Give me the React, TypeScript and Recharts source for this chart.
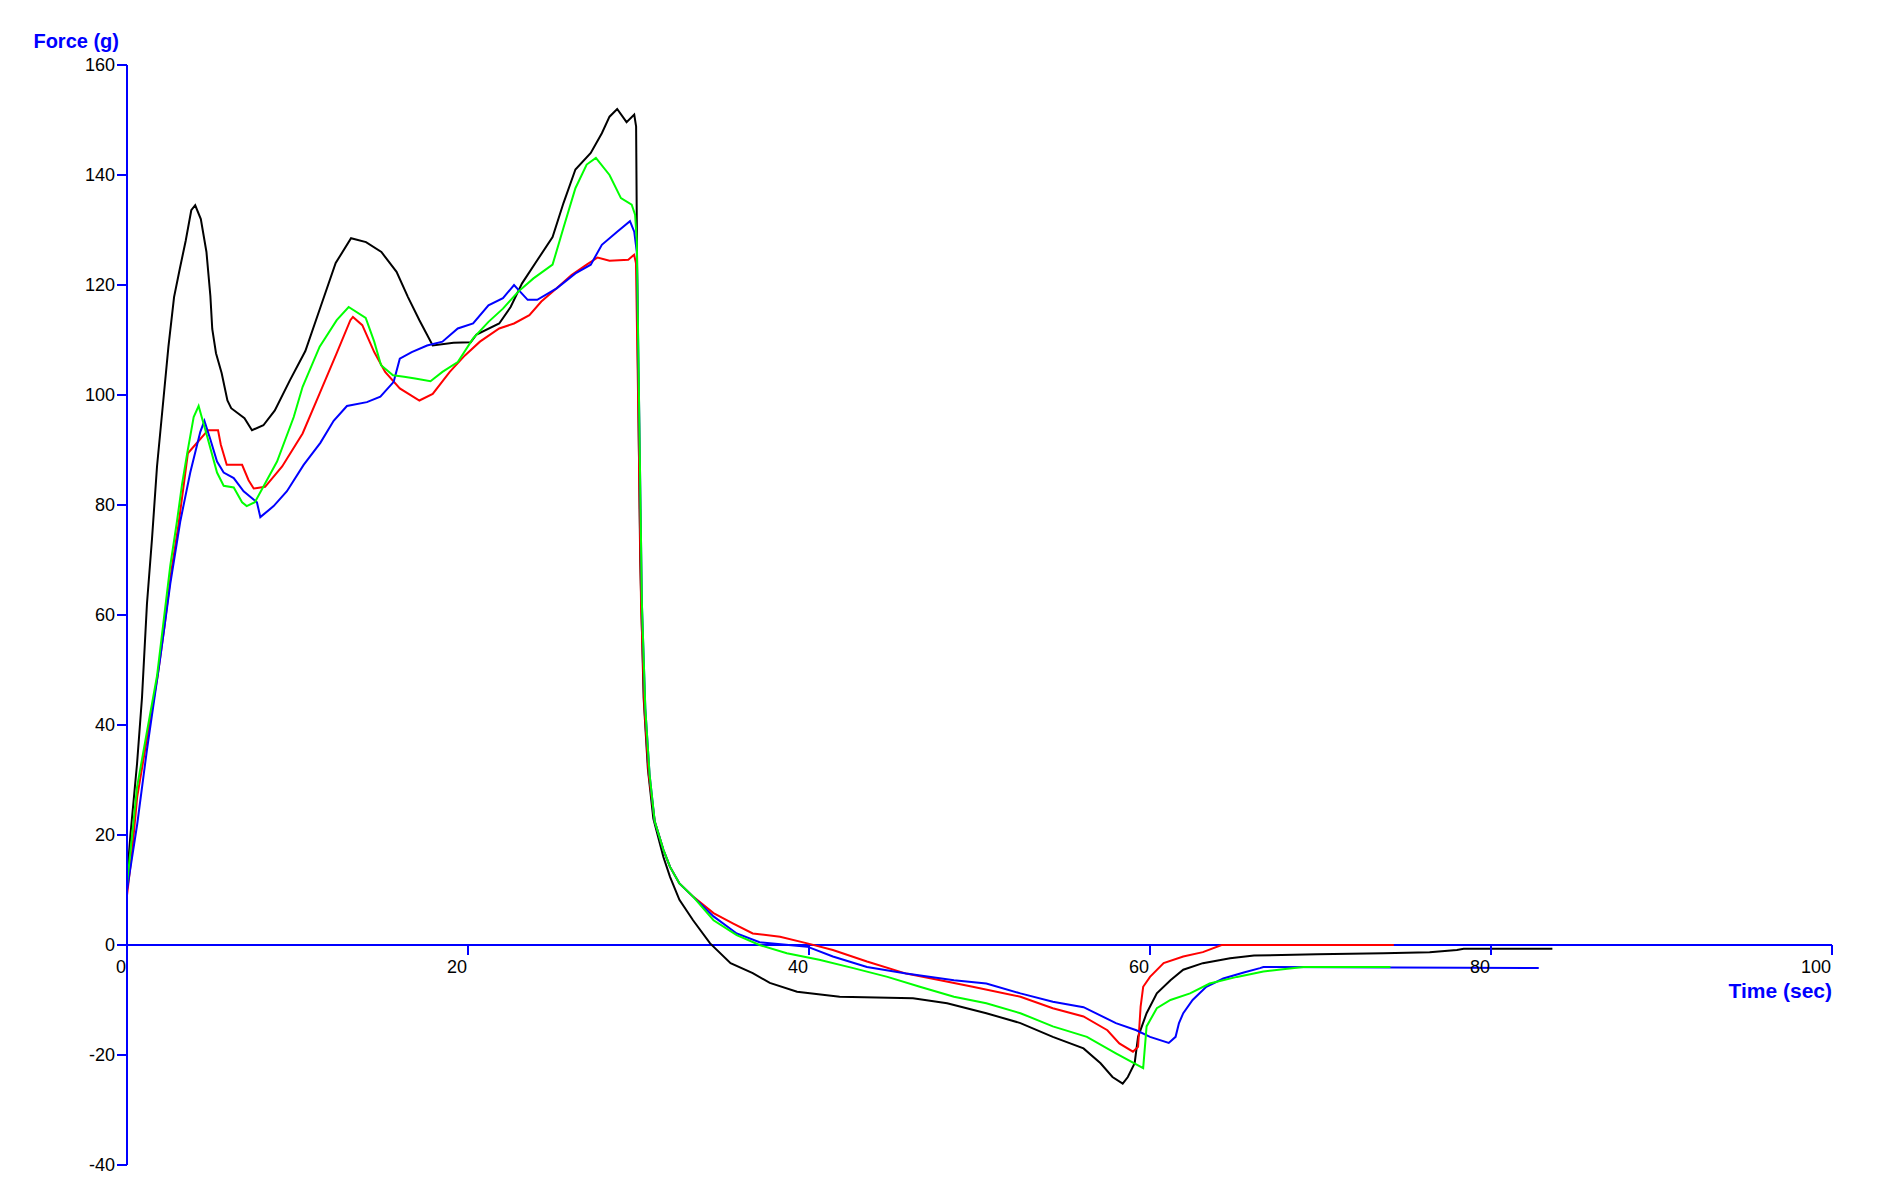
import React from 'react';
import { LineChart, Line, XAxis, YAxis, ReferenceLine } from 'recharts';

// ---- data (time in sec, force in g) ----
const blackTime = [0, 0.2, 0.59, 0.88, 1.17, 1.47, 1.76, 2.16, 2.43, 2.76, 3.1, 3.44, 3.77, 4.0, 4.33, 4.66, 4.89, 5.0, 5.22, 5.55, 5.89, 6.11, 6.89, 7.33, 8.0, 8.67, 9.56, 10.46, 11.35, 12.24, 13.14, 14.02, 14.92, 15.81, 16.48, 17.15, 17.93, 19.15, 20.16, 20.5, 21.83, 22.5, 23.17, 24.06, 24.96, 25.6, 26.3, 27.2, 27.85, 28.3, 28.75, 29.3, 29.75, 29.86, 29.95, 30.1, 30.3, 30.55, 30.87, 31.46, 31.85, 32.4, 33.2, 34.2, 35.4, 36.7, 37.7, 39.3, 41.8, 46.1, 48.1, 50.4, 52.4, 54.3, 56.1, 57.1, 57.8, 58.4, 58.7, 59.1, 59.3, 59.8, 60.4, 61.2, 61.95, 63.1, 64.7, 66.1, 69.8, 73.7, 76.4, 78.0, 78.4, 83.6];
const blackForce = [12, 20, 33, 45, 62, 74, 87, 100, 108.8, 117.8, 123, 128, 133.6, 134.5, 132, 126, 118, 112, 107.6, 104, 99, 97.6, 95.8, 93.6, 94.5, 97.2, 102.7, 108, 116, 124, 128.5, 127.8, 126, 122.4, 117.8, 113.6, 109, 109.5, 109.6, 111, 113, 116, 120.3, 124.5, 128.7, 134.9, 141, 144, 147.6, 150.6, 152, 149.6, 151, 148.8, 110, 70, 45, 32, 23, 16, 12.4, 8.2, 4.5, 0.3, -3.3, -5.1, -6.9, -8.5, -9.4, -9.7, -10.6, -12.4, -14.2, -16.7, -18.8, -21.5, -24, -25.2, -24, -21.5, -16.7, -12.4, -8.8, -6.4, -4.5, -3.3, -2.4, -1.9, -1.7, -1.5, -1.3, -0.9, -0.7, -0.7];

const redTime = [0, 0.3, 0.6, 1.2, 1.8, 2.2, 2.6, 3.0, 3.3, 3.57, 4.16, 4.75, 5.34, 5.5, 5.85, 6.33, 6.75, 7.13, 7.43, 8.1, 9.1, 10.3, 11.3, 12.3, 13.1, 13.25, 13.8, 14.5, 15.14, 16.0, 17.15, 17.93, 18.93, 19.82, 20.7, 21.83, 22.7, 23.6, 24.3, 25.2, 26.07, 26.96, 27.6, 28.3, 29.4, 29.74, 29.85, 30.0, 30.15, 30.35, 30.6, 30.95, 31.46, 31.85, 32.4, 33.2, 34.4, 35.56, 36.7, 38.3, 39.9, 41.4, 43.4, 45.7, 47.7, 49.6, 52.4, 54.3, 56.1, 57.5, 58.2, 59.0, 59.3, 59.45, 59.6, 60.0, 60.8, 61.95, 63.1, 64.2, 74.3];
const redForce = [9, 17, 27, 38, 49, 58, 68, 76, 83, 89.4, 91.5, 93.6, 93.6, 91, 87.3, 87.3, 87.3, 84.5, 83, 83.3, 87, 93, 100.3, 107.6, 113.6, 114.2, 112.7, 107.8, 104.2, 101.2, 99, 100.2, 104.2, 107.2, 109.7, 112.1, 113, 114.5, 117, 119.4, 121.8, 123.7, 125, 124.4, 124.6, 125.5, 124, 95, 62, 43, 31, 22.5, 17.3, 14.2, 11.2, 8.8, 5.8, 3.9, 2.1, 1.5, 0.3, -0.9, -3, -5.2, -6.4, -7.6, -9.4, -11.5, -13, -15.5, -17.9, -19.4, -18.5, -11.2, -7.6, -5.8, -3.3, -2.1, -1.3, 0, 0];

const greenTime = [0, 0.59, 1.17, 1.76, 2.15, 2.54, 2.93, 3.23, 3.52, 3.91, 4.2, 4.69, 5.28, 5.67, 6.26, 6.75, 7.02, 7.5, 8.8, 9.78, 10.3, 11.3, 12.3, 13.0, 14.0, 14.5, 14.9, 15.6, 16.25, 16.9, 17.8, 18.5, 19.4, 20.3, 21.2, 22.05, 22.95, 23.84, 24.96, 25.6, 26.3, 26.96, 27.5, 28.3, 28.97, 29.6, 29.8, 29.9, 30.05, 30.2, 30.4, 30.65, 30.95, 31.46, 31.85, 32.4, 33.2, 34.4, 35.76, 37.1, 38.7, 40.6, 42.6, 44.6, 46.5, 48.5, 50.4, 52.4, 54.3, 56.3, 58.0, 59.6, 59.8, 60.4, 61.2, 62.35, 63.5, 65.1, 66.65, 67.8, 69.0, 74.1];
const greenForce = [11, 28.7, 38.8, 48.9, 59, 69, 77, 83.8, 89.2, 96, 98, 92.6, 85.9, 83.5, 83.2, 80.5, 79.8, 80.5, 87.9, 96, 101.5, 108.8, 113.6, 116, 114, 109.7, 105.4, 103.6, 103.3, 103, 102.5, 104.2, 106, 110.3, 113.3, 115.7, 118.8, 121.2, 123.7, 130.4, 137.6, 141.9, 143.1, 140, 135.8, 134.6, 132.8, 128, 95, 62, 43, 31, 22.5, 17.3, 14.2, 11.2, 8.8, 4.5, 1.8, 0, -1.5, -2.7, -4.2, -5.8, -7.6, -9.4, -10.6, -12.4, -14.8, -16.7, -19.7, -22.4, -14.8, -11.5, -10, -8.8, -7, -5.8, -4.8, -4.4, -4.0, -4.0];

const blueTime = [0, 0.6, 1.17, 1.95, 2.54, 3.13, 3.71, 4.3, 4.54, 4.89, 5.28, 5.67, 6.26, 6.84, 7.62, 7.82, 8.6, 9.38, 10.36, 11.34, 12.12, 12.9, 14.07, 14.86, 15.64, 16.0, 16.7, 17.6, 18.5, 19.4, 20.3, 21.2, 22.05, 22.7, 23.5, 24.06, 25.2, 26.3, 27.2, 27.85, 28.75, 29.5, 29.75, 29.9, 30.05, 30.2, 30.4, 30.65, 30.95, 31.46, 31.85, 32.4, 33.2, 34.4, 35.76, 37.1, 39.9, 41.4, 43.4, 45.7, 48.5, 50.4, 52.4, 54.3, 56.1, 58.0, 59.2, 60.0, 61.1, 61.5, 61.7, 61.95, 62.5, 63.3, 64.3, 65.5, 66.45, 66.65, 82.8];
const blueForce = [10, 22, 35.5, 52.2, 65.7, 77.1, 85.9, 93.3, 95.3, 91.9, 87.9, 85.9, 84.9, 82.5, 80.5, 77.8, 79.8, 82.5, 87.3, 91.3, 95.3, 98, 98.7, 99.7, 102.4, 106.6, 107.8, 109, 109.7, 112.1, 113, 116.3, 117.6, 120, 117.3, 117.3, 119.4, 122.1, 123.7, 127.3, 129.7, 131.6, 129.7, 126, 95, 62, 43, 31, 22.5, 17.3, 14.2, 11.2, 8.8, 5.2, 2.1, 0.5, -0.3, -2.1, -4.0, -5.2, -6.4, -7, -8.8, -10.3, -11.3, -14.2, -15.5, -16.7, -17.8, -16.7, -14.2, -12.4, -10, -7.6, -6.1, -5, -4.2, -4.0, -4.2];

const xTicks = [0, 20, 40, 60, 80, 100];
const yTicks = [-40, -20, 0, 20, 40, 60, 80, 100, 120, 140, 160];
const xDomain = [0, 100];
const yDomain = [-40, 160];

const zip = (ts: number[], vs: number[]) => ts.map((t, i) => ({ t, v: vs[i] }));
const blackData = zip(blackTime, blackForce);
const redData = zip(redTime, redForce);
const greenData = zip(greenTime, greenForce);
const blueData = zip(blueTime, blueForce);

// ---- layout ----
const W = 1866;
const H = 1186;
const MARGIN = { top: 57, right: 42, bottom: 0, left: 0 };
const Y_AXIS_W = 119;
const X_AXIS_H = 29;
const PLOT_H = H - MARGIN.top - MARGIN.bottom - X_AXIS_H;
const Y0 = MARGIN.top + (PLOT_H * (yDomain[1] - 0)) / (yDomain[1] - yDomain[0]);
const AXIS = '#0000FF';
const FONT = '"Liberation Sans", Arial, Helvetica, sans-serif';
const TICK_FS = 18;

const XTick = (props: any) => {
  const { x, payload } = props;
  return (
    <g>
      <line x1={x} x2={x} y1={Y0} y2={Y0 + 10} stroke={AXIS} strokeWidth={2} />
      <text x={x - 1} y={Y0 + 28} textAnchor="end" fontSize={TICK_FS} fill="#000" fontFamily={FONT}>
        {payload.value}
      </text>
    </g>
  );
};

const XLabel = () => (
  <text x={W - MARGIN.right} y={Y0 + 53} textAnchor="end" fontSize={21} fontWeight="bold" fill={AXIS} fontFamily={FONT}>
    Time (sec)
  </text>
);

const YLabel = () => (
  <text x={Y_AXIS_W - 8} y={40} textAnchor="end" fontSize={20} fontWeight="bold" fill={AXIS} fontFamily={FONT}>
    Force (g)
  </text>
);

export default function App() {
  return (
    <div style={{ width: W, height: H, background: '#fff' }}>
      <LineChart width={W} height={H} margin={MARGIN}>
        <XAxis
          type="number"
          dataKey="t"
          domain={xDomain}
          ticks={xTicks}
          height={X_AXIS_H}
          axisLine={false}
          tickLine={false}
          tick={<XTick />}
          label={<XLabel />}
          allowDataOverflow
        />
        <YAxis
          type="number"
          dataKey="v"
          domain={yDomain}
          ticks={yTicks}
          width={Y_AXIS_W}
          axisLine={{ stroke: AXIS, strokeWidth: 2 }}
          tickLine={{ stroke: AXIS, strokeWidth: 2 }}
          tickSize={10}
          tickMargin={2}
          tick={{ fill: '#000', fontSize: TICK_FS, fontFamily: FONT }}
          label={<YLabel />}
          allowDataOverflow
        />
        <ReferenceLine y={0} stroke={AXIS} strokeWidth={2} />
        <Line data={blackData} dataKey="v" stroke="#000000" strokeWidth={2} dot={false} isAnimationActive={false} />
        <Line data={redData} dataKey="v" stroke="#FF0000" strokeWidth={2} dot={false} isAnimationActive={false} />
        <Line data={blueData} dataKey="v" stroke="#0000FF" strokeWidth={2} dot={false} isAnimationActive={false} />
        <Line data={greenData} dataKey="v" stroke="#00FF00" strokeWidth={2} dot={false} isAnimationActive={false} />
      </LineChart>
    </div>
  );
}
